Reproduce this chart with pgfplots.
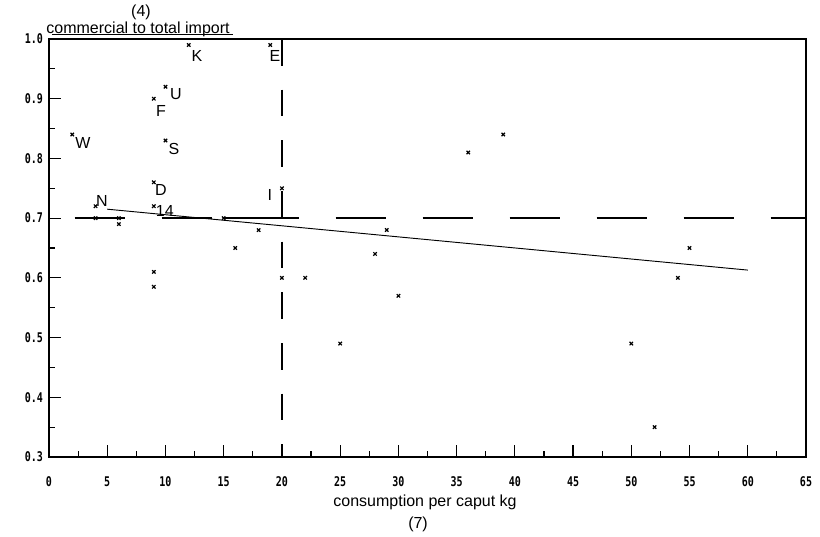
\documentclass[border=0pt]{standalone}
\usepackage{fontspec}
\setmainfont{Liberation Sans}
\newfontfamily\tickfont{DejaVu Sans Mono}[FakeStretch=0.75]
\usepackage{pgfplots}
\pgfplotsset{compat=1.18}
\pgfplotstableread{
x y
2 0.84
4 0.72
4 0.70
6 0.70
6 0.69
9 0.90
10 0.92
12 0.99
19 0.99
10 0.83
9 0.76
9 0.72
9 0.61
9 0.585
15 0.70
16 0.65
18 0.68
20 0.75
20 0.60
22 0.60
25 0.49
28 0.64
29 0.68
30 0.57
36 0.81
39 0.84
50 0.49
52 0.35
54 0.60
55 0.65
}\pts
\begin{document}
\begin{tikzpicture}
\begin{axis}[name=ax, scale only axis, width=567.75pt, height=313.5pt,
 xmin=0,xmax=65,ymin=0.3,ymax=1.0,
 xtick={0,5,10,15,20,25,30,35,40,45,50,55,60,65},
 ytick={0.3,0.4,0.5,0.6,0.7,0.8,0.9,1.0},
 minor x tick num=1, minor y tick num=1,
 tick align=inside, xtick pos=bottom, ytick pos=left,
 major tick length=9pt, minor tick length=4.5pt,
 axis line style={line width=1.1pt},
 every tick/.style={line width=0.9pt, black},
 ticklabel style={font=\tickfont\bfseries\fontsize{10}{11}\selectfont},
 /pgf/number format/assume math mode=true,
 yticklabel style={/pgf/number format/fixed, /pgf/number format/fixed zerofill, /pgf/number format/precision=1, xshift=-1pt},
 xticklabel style={yshift=-11pt},
 clip=false]
\addplot[only marks, mark=x, mark size=1.8pt, black, line width=0.9pt] table[x=x,y=y]{\pts};
% regression line
\addplot[black, line width=0.7pt] coordinates {(5,0.715) (60,0.613)};
% horizontal dashed reference
\addplot[black, line width=1pt, dash pattern=on 37.5pt off 27.75pt] coordinates {(2.2,0.70) (65,0.70)};
\addplot[black, line width=1pt] coordinates {(15,0.70) (20.8,0.70)};
% vertical dashed reference
\addplot[black, line width=1pt, dash pattern=on 20pt off 18pt] coordinates {(20,1.0) (20,0.3)};
% point labels
\begin{scope}[font=\fontsize{12}{14}\selectfont]
\node at (axis cs:2.92,0.826) {W};
\node at (axis cs:4.55,0.729) {N};
\node at (axis cs:9.61,0.880) {F};
\node at (axis cs:10.9,0.907) {U};
\node at (axis cs:12.7,0.971) {K};
\node at (axis cs:19.4,0.971) {E};
\node at (axis cs:10.73,0.816) {S};
\node at (axis cs:9.61,0.747) {D};
\node at (axis cs:9.95,0.712) {14};
\node at (axis cs:18.97,0.739) {I};
\end{scope}
% axis titles
\node[font=\fontsize{12}{14}\selectfont] at ([yshift=20.25pt]rel axis cs:0.1215,1) {(4)};
\node[font=\fontsize{12}{14}\selectfont] at ([yshift=7.5pt]rel axis cs:0.1176,1) {commercial to total import};
\draw[line width=0.6pt] ([yshift=3.75pt]rel axis cs:0.004,1) -- ([yshift=3.75pt]rel axis cs:0.243,1);
\node[font=\fontsize{12}{14}\selectfont] at ([yshift=-33.75pt]rel axis cs:0.4967,0) {consumption per caput kg};
\node[font=\fontsize{12}{14}\selectfont] at ([yshift=-50.25pt]rel axis cs:0.4875,0) {(7)};
\end{axis}
\pgfresetboundingbox
\path ([xshift=-36.75pt,yshift=-60pt]ax.south west) rectangle ([xshift=10.5pt,yshift=29.25pt]ax.north east);
\end{tikzpicture}
\end{document}
